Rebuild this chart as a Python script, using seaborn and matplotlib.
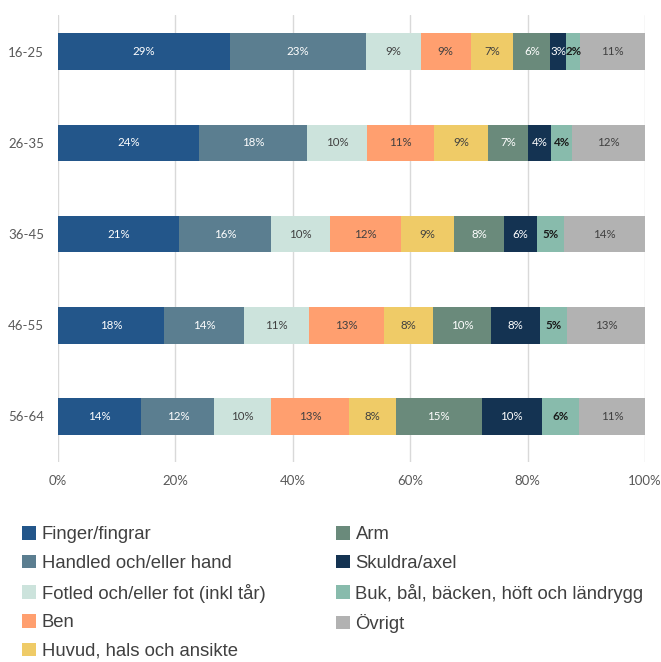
import numpy as np
import pandas as pd
import matplotlib
matplotlib.use("Agg")
import matplotlib.pyplot as plt
import seaborn as sns
from matplotlib.patches import Patch

# Data (andel skador per kroppsdel, per åldersgrupp, %)
age_groups = ["16-25", "26-35", "36-45", "46-55", "56-64"]
body_parts = [
    "Finger/fingrar",
    "Handled och/eller hand",
    "Fotled och/eller fot (inkl tår)",
    "Ben",
    "Huvud, hals och ansikte",
    "Arm",
    "Skuldra/axel",
    "Buk, bål, bäcken, höft och ländrygg",
    "Övrigt",
]
finger = [29.3, 24.1, 20.6, 18.0, 14.2]
handled = [23.1, 18.3, 15.6, 13.7, 12.4]
fotled = [9.3, 10.3, 10.0, 11.0, 9.7]
ben = [8.6, 11.3, 12.1, 12.7, 13.3]
huvud = [7.2, 9.3, 9.1, 8.4, 7.9]
arm = [6.3, 6.7, 8.4, 9.8, 14.6]
skuldra = [2.7, 4.0, 5.7, 8.3, 10.2]
buk = [2.4, 3.6, 4.6, 4.7, 6.4]
ovrigt = [11.0, 12.4, 13.7, 13.2, 11.2]

colors = ["#23568A", "#5B7E90", "#CCE3DC", "#FF9F6F", "#EFCB67",
          "#6A8A7B", "#143352", "#88BBAC", "#B2B2B2"]
label_colors = ["white", "white", "#404040", "#404040", "#404040",
                "white", "white", "#1a1a1a", "#404040"]

series = [finger, handled, fotled, ben, huvud, arm, skuldra, buk, ovrigt]
df = pd.DataFrame(dict(zip(body_parts, series)), index=age_groups)
share = df.div(df.sum(axis=1), axis=0) * 100
cum = share.cumsum(axis=1)

sns.set_style("white")
plt.rcParams["font.family"] = ["Lato", "DejaVu Sans"]

fig = plt.figure(figsize=(6.61, 6.62), dpi=100)
ax = fig.add_axes([0.0877, 0.302, 0.8881, 0.675])

# stacked bars: draw cumulative totals from the back
for i in range(len(body_parts) - 1, -1, -1):
    d = pd.DataFrame({"age": age_groups, "val": cum.iloc[:, i].values})
    sns.barplot(data=d, x="val", y="age", orient="h", color=colors[i],
                width=0.4, ax=ax, saturation=1, edgecolor="none", linewidth=0)

# segment labels
for i, part in enumerate(body_parts):
    left = cum.iloc[:, i] - share.iloc[:, i]
    for j, age in enumerate(age_groups):
        xc = left.iloc[j] + share.iloc[j, i] / 2
        ax.text(xc, j, f"{df.iloc[j, i]:.0f}%", ha="center", va="center",
                fontsize=8.3, color=label_colors[i],
                fontweight="bold" if i == 7 else "normal")

ax.set_xlim(0, 100)
ax.set_ylim(4.5, -0.4)
ax.set_xticks(np.arange(0, 101, 20))
ax.set_xticklabels([f"{v}%" for v in range(0, 101, 20)])
ax.set_xlabel("")
ax.set_ylabel("")
ax.grid(axis="x", color="#D9D9D9", linewidth=1)
ax.set_axisbelow(True)
for s in ax.spines.values():
    s.set_visible(False)
ax.tick_params(axis="both", length=0, labelsize=9.5, colors="#595959")
ax.tick_params(axis="x", pad=9)
ax.tick_params(axis="y", pad=10)

handles = [Patch(facecolor=c, edgecolor="none") for c in colors]
leg_kw = dict(frameon=False, handlelength=0.75, handleheight=0.75,
              handletextpad=0.28, labelspacing=0.62,
              prop={"family": "Liberation Sans", "size": 13.3},
              labelcolor="#404040", borderaxespad=0, borderpad=0)
leg1 = fig.legend(handles[:5], body_parts[:5], loc="upper left",
                  bbox_to_anchor=(0.034, 0.205), **leg_kw)
leg2 = fig.legend(handles[5:], body_parts[5:], loc="upper left",
                  bbox_to_anchor=(0.509, 0.205), **leg_kw)

fig.savefig("out.png", dpi=100)
